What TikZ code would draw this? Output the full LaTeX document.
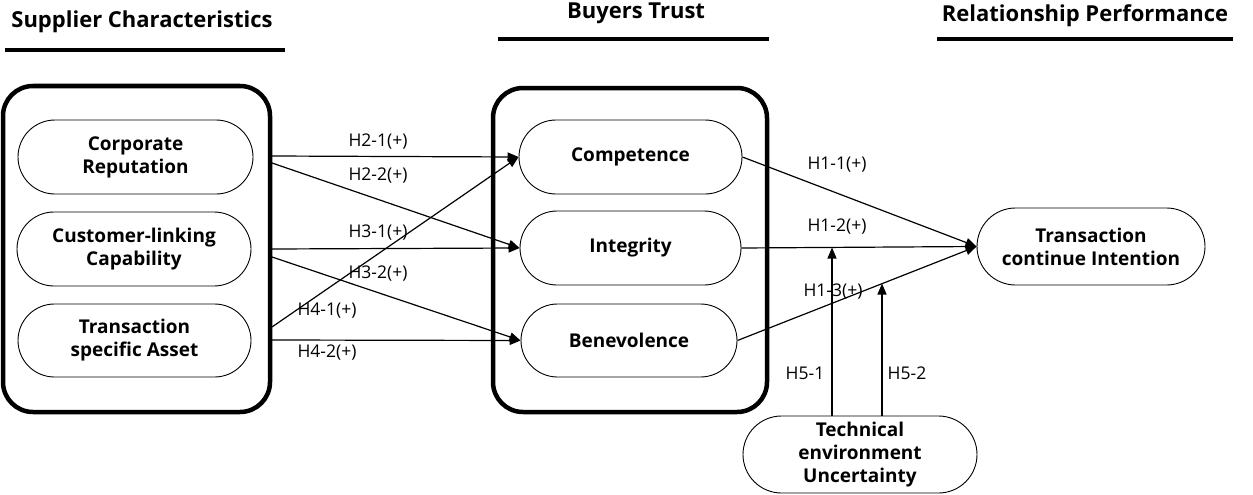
\documentclass[tikz,border=0pt]{standalone}
\usepackage{fontspec}
\setmainfont{Open Sans}
\usetikzlibrary{shapes.misc,arrows.meta}
\tikzset{
  oval/.style={draw,rounded rectangle,line width=0.9pt,align=center,font=\fontsize{19}{23}\selectfont\bfseries,inner sep=0pt},
  group/.style={draw,line width=4.5pt,rounded corners=30pt},
  title/.style={font=\fontsize{22}{24}\selectfont\bfseries,anchor=center},
  uline/.style={line width=3.5pt},
  arr/.style={line width=1.2pt,-{Triangle[length=11pt,width=9pt]}},
  lnk/.style={line width=1.2pt},
  lab/.style={font=\fontsize{17.5}{19}\selectfont,anchor=center,inner sep=0pt}
}
\begin{document}
\begin{tikzpicture}[x=1pt,y=-1pt]
\useasboundingbox (0,0) rectangle (1253,495);
% titles
\node[title] (t1) at (142,22) {Supplier Characteristics};
\draw[uline] (5,50) -- (285,50);
\node[title] (t2) at (636,13) {Buyers Trust};
\draw[uline] (498,39) -- (769,39);
\node[title] (t3) at (1085,16) {Relationship Performance};
\draw[uline] (937,39) -- (1233,39);
% group boxes
\draw[group] (3,86) rectangle (270,412);
\draw[group] (493,88) rectangle (767,412);
% ovals
\node[oval,minimum width=235pt,minimum height=74pt] (CR) at (135.5,157) {Corporate\\Reputation};
\node[oval,minimum width=234pt,minimum height=74pt] (CL) at (134,249) {Customer-linking\\Capability};
\node[oval,minimum width=233pt,minimum height=73pt] (TA) at (134.5,340.5) {Transaction\\specific Asset};
\node[oval,minimum width=223pt,minimum height=74pt] (C) at (630.5,157) {Competence};
\node[oval,minimum width=221pt,minimum height=74pt] (I) at (630.5,248) {Integrity};
\node[oval,minimum width=216pt,minimum height=73pt] (B) at (629,340.5) {Benevolence};
\node[oval,minimum width=228pt,minimum height=77pt] (T) at (1091,246.5) {Transaction\\continue Intention};
\node[oval,minimum width=234pt,minimum height=77pt] (U) at (860,454.5) {Technical\\environment\\Uncertainty};
% start points on the supplier box
\coordinate (s21) at (272,156);
\coordinate (s22) at (272,163);
\coordinate (s31) at (272,249);
\coordinate (s32) at (272,257);
\coordinate (s41) at (272,327);
\coordinate (s42) at (272,340);
% arrows into trust
\draw[arr] (s21) -- (C.west);
\draw[arr] (s22) -- (I.west);
\draw[arr] (s31) -- (I.west);
\draw[arr] (s32) -- (B.west);
\draw[arr] (s41) -- (C.west);
\draw[arr] (s42) -- (B.west);
% arrows into performance
\draw[arr] (C.east) -- (T.west);
\draw[arr] (I.east) -- (T.west);
\draw[arr] (B.east) -- (T.west);
% moderation
\coordinate (m1) at (832,247.5);
\coordinate (m2) at (882,283.5);
\coordinate (u1) at (832,416);
\coordinate (u2) at (882,416);
\draw[arr] (u1) -- (m1);
\draw[arr] (u2) -- (m2);
% labels
\node[lab] (l21) at (378,142) {H2-1(+)};
\node[lab] (l22) at (378,176) {H2-2(+)};
\node[lab] (l31) at (378,233) {H3-1(+)};
\node[lab] (l32) at (378,274) {H3-2(+)};
\node[lab] (l41) at (327,311) {H4-1(+)};
\node[lab] (l42) at (327,353) {H4-2(+)};
\node[lab] (l11) at (837,165) {H1-1(+)};
\node[lab] (l12) at (837,227) {H1-2(+)};
\node[lab] (l13) at (833,292) {H1-3(+)};
\node[lab] (l51) at (805,373) {H5-1};
\node[lab] (l52) at (907,373) {H5-2};
\end{tikzpicture}
\end{document}
